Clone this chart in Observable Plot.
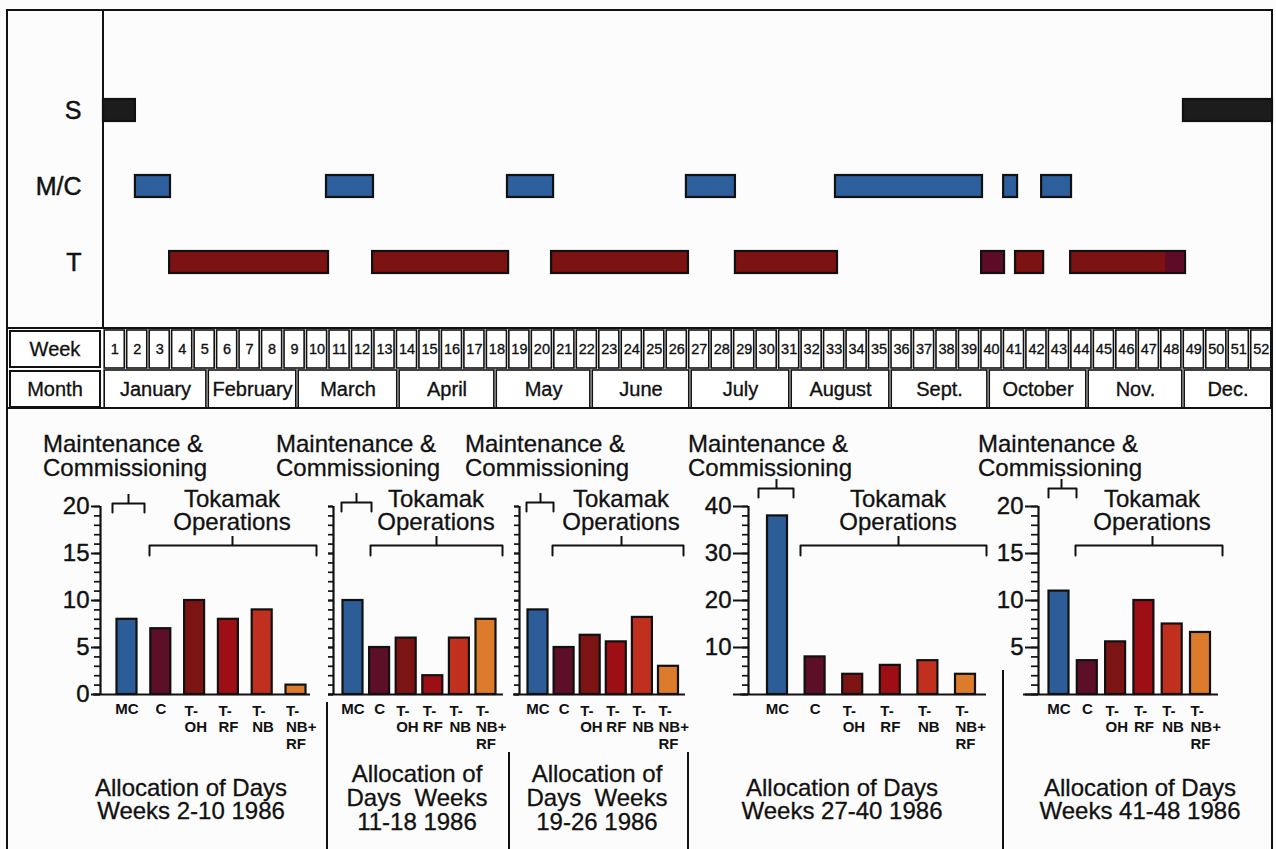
<!DOCTYPE html>
<html>
<head>
<meta charset="utf-8">
<script src="https://cdn.jsdelivr.net/npm/d3@7"></script>
<script src="https://cdn.jsdelivr.net/npm/@observablehq/plot@0.6"></script>
<style>
html,body{margin:0;padding:0;background:#fff;}
#root{position:relative;width:1276px;height:849px;overflow:hidden;background:#fcfcfc;font-family:"Liberation Sans",Arial,Helvetica,sans-serif;color:#111;}
#root svg{position:absolute;overflow:visible;}
.ln{position:absolute;background:#111;}
.txt{position:absolute;font-size:24px;line-height:23px;white-space:pre;color:#111;-webkit-text-stroke:0.3px #111;}
.cell{position:absolute;box-sizing:border-box;border:2px solid #111;background:#fff;font-size:20px;display:flex;align-items:center;justify-content:center;-webkit-text-stroke:0.3px #111;}
</style>
</head>
<body>
<div id="root"></div>
<script>
// ---------------- data ----------------
const rows = ["S", "M/C", "T"];
// Gantt blocks, in weeks from the start of week 1
const sStart = [0, 48.04];
const sEnd = [1.42, 52];
const mcStart = [1.42, 9.92, 17.97, 25.93, 32.56, 40.04, 41.73];
const mcEnd = [2.98, 12.01, 20.02, 28.11, 39.10, 40.66, 43.06];
const tStart = [2.94, 11.97, 19.93, 28.11, 39.06, 40.57, 43.02];
const tEnd = [10.01, 18.02, 26.02, 32.65, 40.08, 41.82, 48.13];
const tKind = ["T", "T", "T", "T", "C", "T", "T"];
const cSegStart = [47.25];
const cSegEnd = [48.13];

const weekNumbers = [1,2,3,4,5,6,7,8,9,10,11,12,13,14,15,16,17,18,19,20,21,22,23,24,25,26,
  27,28,29,30,31,32,33,34,35,36,37,38,39,40,41,42,43,44,45,46,47,48,49,50,51,52];
const monthNames = ["January","February","March","April","May","June","July","August","Sept.","October","Nov.","Dec."];
const monthStartWeek = [0, 4.63, 8.63, 13.12, 17.44, 21.71, 26.11, 30.56, 35.01, 39.37, 43.77, 48.04];
const monthEndWeek = [4.63, 8.63, 13.12, 17.44, 21.71, 26.11, 30.56, 35.01, 39.37, 43.77, 48.04, 52];

const categories = ["MC", "C", "T-OH", "T-RF", "T-NB", "T-NB+RF"];
const categoryLabels = ["MC", "C", "T-\nOH", "T-\nRF", "T-\nNB", "T-\nNB+\nRF"];
const days_w2_10  = [8, 7, 10, 8, 9, 1];
const days_w11_18 = [10, 5, 6, 2, 6, 8];
const days_w19_26 = [9, 5, 6.3, 5.6, 8.2, 3];
const days_w27_40 = [38, 8, 4.3, 6.2, 7.2, 4.3];
const days_w41_48 = [11, 3.6, 5.6, 10, 7.5, 6.6];
const periodTitles = [
  "Allocation of Days\nWeeks 2-10 1986",
  "Allocation of\nDays  Weeks\n11-18 1986",
  "Allocation of\nDays  Weeks\n19-26 1986",
  "Allocation of Days\nWeeks 27-40 1986",
  "Allocation of Days\nWeeks 41-48 1986"
];
const yTicks20 = [0, 5, 10, 15, 20];
const yTicks40 = [0, 10, 20, 30, 40];

const ganttKinds = ["S", "M/C", "T", "C"];
const ganttColors = ["#1c1c1c", "#2e5f9d", "#7c1212", "#5e0b27"];
const catColors = ["#2c5d98", "#5c0f26", "#7b1413", "#9d0f14", "#c1301e", "#dc7b2b"];

// ---------------- helpers ----------------
const FONT = '"Liberation Sans", Arial, Helvetica, sans-serif';
const root = document.getElementById("root");
function addLine(x, y, w, h) {
  const d = document.createElement("div");
  d.className = "ln";
  Object.assign(d.style, {left: x + "px", top: y + "px", width: w + "px", height: h + "px"});
  root.appendChild(d);
}
function addText(str, left, top, center, lh) {
  const d = document.createElement("div");
  d.className = "txt";
  d.textContent = str;
  d.style.left = left + "px";
  d.style.top = top + "px";
  if (center) { d.style.transform = "translateX(-50%)"; d.style.textAlign = "center"; }
  if (lh) d.style.lineHeight = lh + "px";
  root.appendChild(d);
}
function addCell(str, left, top, w, h) {
  const d = document.createElement("div");
  d.className = "cell";
  d.textContent = str;
  Object.assign(d.style, {left: left + "px", top: top + "px", width: w + "px", height: h + "px"});
  root.appendChild(d);
}
function mount(svg, left, top) {
  svg.style.left = left + "px";
  svg.style.top = top + "px";
  root.appendChild(svg);
}
const baseStyle = {fontFamily: FONT, background: "transparent", overflow: "visible", color: "#111"};
const heavy = {stroke: "#111", strokeWidth: 0.35};

// ---------------- Gantt ----------------
const ganttData = [
  ...sStart.map((s, i) => ({row: "S", x1: s, x2: sEnd[i], kind: "S"})),
  ...mcStart.map((s, i) => ({row: "M/C", x1: s, x2: mcEnd[i], kind: "M/C"})),
  ...tStart.map((s, i) => ({row: "T", x1: s, x2: tEnd[i], kind: tKind[i]}))
];
const cSegs = cSegStart.map((s, i) => ({row: "T", x1: s, x2: cSegEnd[i], kind: "C"}));

const gantt = Plot.plot({
  width: 1276, height: 330,
  marginLeft: 103, marginRight: 4, marginTop: 10, marginBottom: 2,
  style: baseStyle,
  x: {domain: [0, 52], axis: null},
  y: {type: "band", domain: rows, range: [72, 300], padding: 0},
  color: {domain: ganttKinds, range: ganttColors},
  marks: [
    Plot.axisY({tickSize: 0, tickPadding: 22, fontSize: 25, label: null, fill: "#111", textStroke: "#111", textStrokeWidth: 0.5}),
    Plot.barX(ganttData, {x1: "x1", x2: "x2", y: "row", fill: "kind", stroke: "#111", strokeWidth: 2.2, insetTop: 27, insetBottom: 27}),
    Plot.barX(cSegs, {x1: "x1", x2: "x2", y: "row", fill: "kind", insetTop: 28.2, insetBottom: 28.2, insetRight: 1.2})
  ]
});
mount(gantt, 0, 0);

// ---------------- Week row ----------------
const weekRow = Plot.plot({
  width: 1276, height: 42,
  marginLeft: 103, marginRight: 4, marginTop: 2, marginBottom: 2,
  style: baseStyle,
  x: {domain: [0, 52], axis: null},
  marks: [
    Plot.rect(weekNumbers, {x1: d => d - 1, x2: d => d, insetLeft: 1.2, insetRight: 1.2, fill: "#fff", stroke: "#111", strokeWidth: 1.6}),
    Plot.text(weekNumbers, {x: d => d - 0.5, text: d => String(d), frameAnchor: "middle", fontSize: 14.5, fill: "#111", ...heavy, style: "letter-spacing:-0.6px"})
  ]
});
mount(weekRow, 0, 328);

// ---------------- Month row ----------------
const monthData = monthNames.map((m, i) => ({m, x1: monthStartWeek[i], x2: monthEndWeek[i]}));
const monthRow = Plot.plot({
  width: 1276, height: 42,
  marginLeft: 103, marginRight: 4, marginTop: 2, marginBottom: 2,
  style: baseStyle,
  x: {domain: [0, 52], axis: null},
  marks: [
    Plot.rect(monthData, {x1: "x1", x2: "x2", insetLeft: 1.2, insetRight: 1.2, fill: "#fff", stroke: "#111", strokeWidth: 1.6}),
    Plot.text(monthData, {x: d => (d.x1 + d.x2) / 2, text: "m", frameAnchor: "middle", fontSize: 20, fill: "#111", ...heavy})
  ]
});
mount(monthRow, 0, 368);

addCell("Week", 9, 330, 92, 38);
addCell("Month", 9, 370, 92, 38);

// ---------------- structure lines ----------------
addLine(6, 9, 1267, 2);
addLine(6, 9, 2, 840);
addLine(1271, 9, 2, 840);
addLine(6, 327, 1267, 2);
addLine(102, 9, 2, 320);
addLine(6, 407, 1267, 2);
addLine(326, 702, 2, 147);
addLine(508, 752, 2, 97);
addLine(687, 752, 2, 97);
addLine(1002, 670, 2, 179);

// ---------------- bar panels ----------------
const Y0 = 694, YTOP = 506, PTOP = 470, PH = 300;
const panels = [
  {values: days_w2_10, left: 10, width: 317, axisX: 100, c0: 126.5, step: 33.8, baseStart: 93, baseEnd: 310,
   ymax: 20, major: yTicks20, minor: 1, majorSize: 9, minorSize: 6, labels: true, hideZero: false,
   mcBr: [112, 144, 128], mcY: 503, tokBr: [149, 316, 232], maintLeft: 43, tokCenter: 232, titleCenter: 191, titleTop: 776},
  {values: days_w11_18, left: 327, width: 183, axisX: 333, c0: 352.5, step: 26.6, baseStart: 328, baseEnd: 503,
   ymax: 20, major: yTicks20, minor: 1, majorSize: 5, minorSize: 5, labels: false, hideZero: false,
   mcBr: [341, 371, 356], mcY: 502, tokBr: [370, 502, 436], maintLeft: 276, tokCenter: 436, titleCenter: 417, titleTop: 762},
  {values: days_w19_26, left: 510, width: 178, axisX: 519, c0: 537.5, step: 26.1, baseStart: 513, baseEnd: 685,
   ymax: 20, major: yTicks20, minor: 1, majorSize: 5, minorSize: 5, labels: false, hideZero: false,
   mcBr: [526, 553, 540], mcY: 502, tokBr: [552, 683, 621], maintLeft: 465, tokCenter: 621, titleCenter: 597, titleTop: 762},
  {values: days_w27_40, left: 688, width: 316, axisX: 748, c0: 777, step: 37.6, baseStart: 740, baseEnd: 986,
   ymax: 40, major: yTicks40, minor: 2, majorSize: 15, minorSize: 6, labels: true, hideZero: true,
   mcBr: [758, 793, 776], mcY: 488, tokBr: [800, 986, 898], maintLeft: 688, tokCenter: 898, titleCenter: 842, titleTop: 776},
  {values: days_w41_48, left: 1004, width: 266, axisX: 1038, c0: 1058.5, step: 28.3, baseStart: 1023, baseEnd: 1218,
   ymax: 20, major: yTicks20, minor: 1, majorSize: 13, minorSize: 7, labels: true, hideZero: true,
   mcBr: [1048, 1076, 1061], mcY: 488, tokBr: [1075, 1222, 1152], maintLeft: 978, tokCenter: 1152, titleCenter: 1140, titleTop: 776}
];

panels.forEach((c, pi) => {
  const xv = px => (px - c.c0) / c.step;
  const yv = py => c.ymax * (Y0 - py) / (Y0 - YTOP);
  const hw = 10 / c.step;
  const bars = categories.map((cat, i) => ({cat, i, v: c.values[i], label: categoryLabels[i]}));
  const bracket = (l, r, yb, ye) => [
    {x: xv(l), y: yv(ye)}, {x: xv(l), y: yv(yb)}, {x: xv(r), y: yv(yb)}, {x: xv(r), y: yv(ye)}
  ];
  const minorTicks = d3.range(0, c.ymax + 1e-9, c.minor);
  const svg = Plot.plot({
    width: c.width, height: PH,
    marginLeft: c.axisX - c.left,
    marginRight: c.left + c.width - c.baseEnd,
    marginTop: YTOP - PTOP,
    marginBottom: PTOP + PH - Y0,
    style: baseStyle,
    x: {domain: [xv(c.axisX), xv(c.baseEnd)], axis: null},
    y: {domain: [0, c.ymax]},
    color: {domain: categories, range: catColors},
    marks: [
      Plot.axisY({ticks: minorTicks, tickSize: c.minorSize, tickFormat: () => "", label: null, strokeWidth: 1.7, stroke: "#111"}),
      Plot.axisY({ticks: c.major, tickSize: c.majorSize, tickPadding: 2, fontSize: 24, label: null, strokeWidth: 2, stroke: "#111", fill: "#111",
        textStroke: "#111", textStrokeWidth: 0.4,
        tickFormat: d => (!c.labels || (c.hideZero && d === 0)) ? "" : String(d)}),
      Plot.ruleX([xv(c.axisX)], {y1: () => 0, y2: () => c.ymax, stroke: "#111", strokeWidth: 2.2}),
      Plot.rect(bars, {x1: d => d.i - hw, x2: d => d.i + hw, y1: () => 0, y2: "v", fill: "cat", stroke: "#111", strokeWidth: 2.2}),
      Plot.ruleY([0], {x1: () => xv(c.baseStart), x2: () => xv(c.baseEnd), stroke: "#111", strokeWidth: 2.2}),
      Plot.text(bars.filter(d => !d.label.includes("\n")), {x: "i", text: "label", frameAnchor: "bottom", dy: 9, lineAnchor: "top", fontSize: 15, fontWeight: "bold", fill: "#111"}),
      Plot.text(bars.filter(d => d.label.includes("\n")), {x: d => d.i - hw, text: "label", frameAnchor: "bottom", dy: 9, lineAnchor: "top", textAnchor: "start", fontSize: 15, fontWeight: "bold", lineHeight: 1.13, fill: "#111"}),
      Plot.line(bracket(c.mcBr[0], c.mcBr[1], c.mcY, c.mcY + 9), {x: "x", y: "y", stroke: "#111", strokeWidth: 2}),
      Plot.ruleX([xv(c.mcBr[2])], {y1: () => yv(c.mcY), y2: () => yv(c.mcY - 9), stroke: "#111", strokeWidth: 2}),
      Plot.line(bracket(c.tokBr[0], c.tokBr[1], 545, 555), {x: "x", y: "y", stroke: "#111", strokeWidth: 2}),
      Plot.ruleX([xv(c.tokBr[2])], {y1: () => yv(545), y2: () => yv(536), stroke: "#111", strokeWidth: 2})
    ]
  });
  mount(svg, c.left, PTOP);
  addText("Maintenance &\nCommissioning", c.maintLeft, 432, false, 23.5);
  addText("Tokamak\nOperations", c.tokCenter, 487, true, 23);
  addText(periodTitles[pi], c.titleCenter, c.titleTop, true, periodTitles[pi].split("\n").length === 3 ? 23.8 : 23);
});
</script>
</body>
</html>
